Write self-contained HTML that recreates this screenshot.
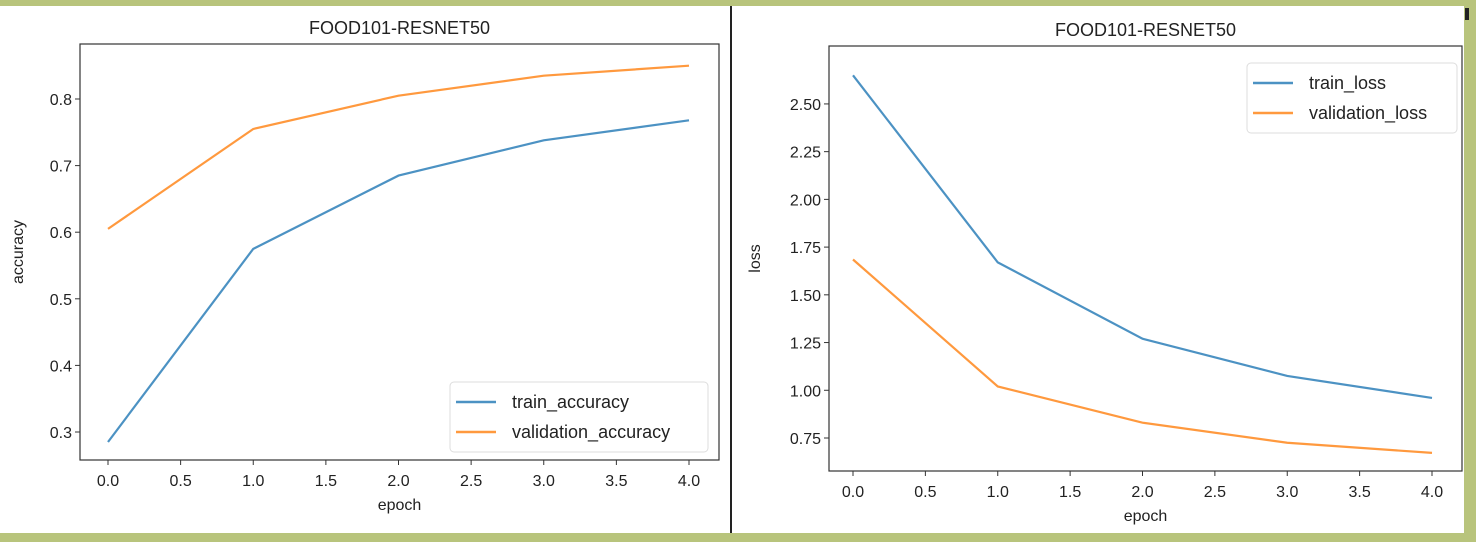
<!DOCTYPE html>
<html><head><meta charset="utf-8"><style>
body{margin:0;width:1476px;height:542px;overflow:hidden;background:#fff;font-family:"Liberation Sans",sans-serif}
svg text{font-family:"Liberation Sans",sans-serif;fill:#222}
</style></head><body>
<svg id="s" width="1476" height="542">
<rect x="0" y="0" width="1476" height="6" fill="#b8c47c"/>
<rect x="0" y="533" width="1476" height="9" fill="#b8c47c"/>
<rect x="1464" y="0" width="12" height="542" fill="#b8c47c"/>
<rect x="1465" y="8" width="4" height="12" fill="#222"/>
<rect x="730" y="6" width="2" height="527" fill="#222"/>
</svg>
<script>
const epochs=[0,1,2,3,4];
const trainAcc=[0.285,0.575,0.685,0.738,0.768];
const valAcc=[0.605,0.755,0.805,0.835,0.850];
const accTicks=[0.3,0.4,0.5,0.6,0.7,0.8];
const trainLoss=[2.65,1.67,1.27,1.075,0.96];
const valLoss=[1.685,1.02,0.83,0.725,0.672];
const lossTicks=[0.75,1.00,1.25,1.50,1.75,2.00,2.25,2.50];
const xTicks=[0,0.5,1,1.5,2,2.5,3,3.5,4];
const NS='http://www.w3.org/2000/svg';const svg=document.getElementById('s');
function mk(t,a,p){const e=document.createElementNS(NS,t);for(const k in a)e.setAttribute(k,a[k]);(p||svg).appendChild(e);return e;}
function chart(o){
  const g=mk('g',{});
  
  
  const X=v=>o.x0+(v-0)*o.xs, Y=v=>o.y0-(v-o.yv0)*o.ys;
  const box=mk('rect',{x:o.L,y:o.T,width:o.R-o.L,height:o.B-o.T,fill:'none',stroke:'#333','stroke-width':1.2},g);
  
  
  xTicks.forEach(v=>{mk('line',{x1:X(v),x2:X(v),y1:o.B,y2:o.B+5,stroke:'#333'},g);
    const t=mk('text',{x:X(v),y:o.B+26,'text-anchor':'middle','font-size':16},g);t.textContent=v.toFixed(1);
    
    });
  o.yt.forEach(v=>{mk('line',{x1:o.L-5,x2:o.L,y1:Y(v),y2:Y(v),stroke:'#333'},g);
    const t=mk('text',{x:o.L-8,y:Y(v)+6,'text-anchor':'end','font-size':16},g);t.textContent=v.toFixed(o.dec);
    
    });
  o.series.forEach(s=>{const l=mk('polyline',{points:epochs.map((e,i)=>X(e)+','+Y(s.v[i])).join(' '),fill:'none',stroke:s.c,'stroke-width':2.2,'stroke-opacity':0.8},g);
    
    });
  const tt=mk('text',{x:(o.L+o.R)/2,y:o.T-10,'text-anchor':'middle','font-size':18},g);tt.textContent='FOOD101-RESNET50';
  
  
  const xl=mk('text',{x:(o.L+o.R)/2,y:o.B+50,'text-anchor':'middle','font-size':16},g);xl.textContent='epoch';
  
  
  const yl=mk('text',{x:0,y:0,'text-anchor':'middle','font-size':16,transform:`translate(${o.ylx},${(o.T+o.B)/2}) rotate(-90)`},g);yl.textContent=o.ylab;
  
  
  const lg=mk('g',{},g);
  
  
  mk('rect',{x:o.lx,y:o.ly,width:o.lw,height:70,rx:4,fill:'#fff',stroke:'#ddd'},lg);
  o.series.forEach((s,i)=>{const yy=o.ly+20+i*30;
    mk('line',{x1:o.lx+6,x2:o.lx+46,y1:yy,y2:yy,stroke:s.c,'stroke-width':2.5,'stroke-opacity':0.8},lg);
    const t=mk('text',{x:o.lx+62,y:yy+6,'font-size':18},lg);t.textContent=s.n;
    
    });
}
chart({name:'accuracy-chart',L:80,R:719,T:44,B:460,x0:108,xs:145.25,yv0:0.3,y0:432,ys:666,yt:accTicks,dec:1,ylab:'accuracy',ylx:23,lx:450,ly:382,lw:258,
  series:[{n:'train_accuracy',v:trainAcc,c:'#1f77b4'},{n:'validation_accuracy',v:valAcc,c:'#ff7f0e'}]});
chart({name:'loss-chart',L:829,R:1462,T:46,B:471,x0:853,xs:144.75,yv0:0.75,y0:438,ys:190.9,yt:lossTicks,dec:2,ylab:'loss',ylx:760,lx:1247,ly:63,lw:210,
  series:[{n:'train_loss',v:trainLoss,c:'#1f77b4'},{n:'validation_loss',v:valLoss,c:'#ff7f0e'}]});
</script>
</body></html>
